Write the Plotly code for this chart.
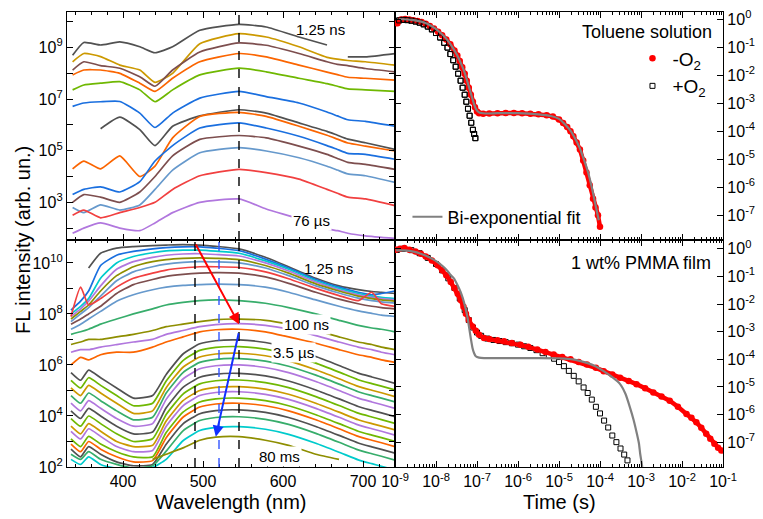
import plotly.graph_objects as go

# ---------------- palette ----------------
GRAY, RED, BLUE, TEAL, PURPLE, GOLD = "#515151", "#F14040", "#1A6FDF", "#37AD6B", "#B177DE", "#CC9900"
CYAN, BROWN, OLIVE, ORANGE, STEEL, LIME = "#00CBCC", "#7D4E4E", "#8E8E00", "#FB6501", "#6699CC", "#6FB802"

# ---------------- toluene solution spectra (log10 intensity) ----------------
tol_wl = [337, 351, 372, 396, 421, 440, 462, 496, 545, 579, 620, 655, 668, 681, 703, 740]
tol_spectra = [
    [8.7, 9.2, 9.1, 9.22, 9.03, 8.8, 9.03, 9.67, 9.9, 9.8, 9.41, 9.1, None, 8.64, 8.64, 8.77],
    [8.45, 8.77, 8.65, 8.32, 8.13, 7.65, 8.0, 9.15, 9.54, 9.41, 9.03, 8.62, 8.55, 8.5, 8.45, 8.32],
    [8.13, 8.45, 8.3, 8.2, 7.87, 7.5, 8.13, 8.83, 9.18, 9.09, 8.77, 8.45, 8.35, 8.3, 8.19, 8.06],
    [7.94, 8.13, 8.13, 8.0, 7.62, 7.3, 7.81, 8.45, 8.77, 8.64, 8.32, 8.05, 7.95, 7.85, 7.81, 7.74],
    [7.36, 7.55, 7.62, 7.68, 7.36, 6.9, 7.36, 7.94, 8.2, 8.06, 7.81, 7.6, 7.5, 7.4, 7.36, 7.3],
    [6.72, 6.85, 6.9, 6.91, 6.46, 5.9, 6.46, 7.04, 7.3, 7.1, 6.85, 6.5, 6.35, 6.2, 6.14, 5.95],
    [None, None, 5.85, 6.3, 5.82, 5.2, 5.95, 6.35, 6.59, 6.46, 6.08, 5.75, 5.6, 5.45, 5.31, 5.05],
    [4.3, 4.6, 4.3, 4.8, 4.0, 4.4, 5.5, 6.33, 6.49, 6.33, 5.95, 5.6, 5.45, 5.3, 5.18, 4.99],
    [3.3, 3.5, 3.6, 3.4, 3.8, 4.6, 5.2, 5.88, 6.08, 5.88, 5.56, 5.2, 5.05, 4.9, 4.86, 4.67],
    [3.0, 3.3, 3.2, 3.0, 3.4, 4.0, 4.8, 5.44, 5.59, 5.5, 5.18, 4.86, 4.7, 4.55, 4.47, 4.28],
    [2.8, 2.6, 2.9, 2.7, 2.9, 3.5, 4.25, 4.92, 5.12, 4.99, 4.73, 4.4, 4.25, 4.1, 4.03, 3.77],
    [2.5, 2.7, 2.4, 2.6, 2.8, 3.0, 3.5, 4.03, 4.28, 4.15, 3.9, 3.5, 3.35, 3.2, 3.13, 2.87],
    [1.8, 2.0, 2.2, 2.0, 1.9, 2.2, 2.6, 3.0, 3.13, 2.74, 2.36, 1.97, 1.9, 1.8, 1.7, 1.6],
]
tol_colors = [GRAY, GOLD, BROWN, ORANGE, LIME, BLUE, GRAY, ORANGE, BLUE, BROWN, STEEL, RED, PURPLE]

# ---------------- PMMA film spectra (log10 intensity) ----------------
film_wl = [335, 347, 357, 372, 392, 413, 437, 454, 475, 496, 516, 545, 578, 607, 641, 670, 694, 711, 723, 740]
film_spectra = [
    [None, None, 9.8, 10.38, 10.58, 10.64, 10.68, 10.7, 10.72, 10.7, 10.65, 10.55, 10.22, 9.85, 9.4, 9.1, 8.95, 8.88, 8.85, 8.8],
    [8.15, 8.5, 8.9, 9.9, 10.3, 10.45, 10.55, 10.6, 10.63, 10.63, 10.58, 10.48, 10.15, 9.8, 9.35, 9.05, 8.85, 8.75, 8.8, 8.9],
    [8.0, 8.3, 8.6, 9.4, 10.0, 10.25, 10.4, 10.47, 10.5, 10.5, 10.46, 10.38, 10.08, 9.75, 9.3, 9.0, 8.8, 8.7, 8.65, 8.6],
    [7.9, 8.2, 8.5, 9.1, 9.75, 10.05, 10.22, 10.3, 10.35, 10.36, 10.33, 10.27, 10.0, 9.68, 9.25, 8.95, 8.75, 8.65, 8.6, 8.55],
    [7.8, 8.1, 8.35, 8.9, 9.5, 9.85, 10.05, 10.13, 10.18, 10.2, 10.18, 10.13, 9.9, 9.6, 9.18, 8.9, 8.7, 8.6, 8.55, 8.5],
    [7.7, 8.0, 8.25, 8.7, 9.3, 9.65, 9.85, 9.95, 10.02, 10.05, 10.04, 10.0, 9.8, 9.5, 9.1, 8.82, 8.62, 8.52, 8.47, 8.42],
    [7.9, 9.05, 8.35, 8.6, 9.05, 9.4, 9.6, 9.72, 9.8, 9.85, 9.85, 9.82, 9.65, 9.38, 9.0, 8.72, 8.52, 8.85, 8.4, 8.3],
    [7.6, 7.8, 8.0, 8.3, 8.8, 9.15, 9.35, 9.47, 9.55, 9.6, 9.62, 9.6, 9.45, 9.2, 8.85, 8.58, 8.4, 8.3, 8.25, 8.2],
    [7.4, 7.6, 7.8, 8.1, 8.5, 8.75, 8.95, 9.05, 9.12, 9.15, 9.17, 9.15, 9.05, 8.85, 8.55, 8.3, 8.12, 8.02, 7.95, 7.9],
    [7.2, 7.3, 7.4, 7.6, 7.8, 8.0, 8.2, 8.35, 8.45, 8.52, 8.55, 8.52, 8.42, 8.25, 8.0, 7.75, 7.55, 7.45, 7.4, 7.3],
    [6.8, 6.9, 7.0, 7.0, 7.1, 7.2, 7.35, 7.5, 7.6, 7.7, 7.78, 7.8, 7.75, 7.6, 7.35, 7.1, 6.9, 6.8, 6.7, 6.6],
    [6.5, 6.6, 6.6, 6.7, 6.8, 6.9, 7.0, 7.2, 7.35, 7.5, 7.58, 7.62, 7.55, 7.4, 7.15, 6.9, 6.7, 6.6, 6.5, 6.4],
    [6.0, 6.3, 6.2, 6.4, 6.5, 6.5, 6.7, 6.9, 7.1, 7.3, 7.38, 7.4, 7.3, 7.1, 6.85, 6.6, 6.4, 6.3, 6.2, 6.1],
    [5.7, 5.4, 5.8, 5.5, 5.1, 4.7, 4.8, 5.63, 6.43, 6.83, 6.95, 6.98, 6.88, 6.68, 6.33, 5.98, 5.68, 5.53, 5.43, 5.28],
    [5.4, 5.1, 5.5, 5.2, 4.8, 4.4, 4.5, 5.37, 6.17, 6.57, 6.69, 6.72, 6.62, 6.42, 6.07, 5.72, 5.42, 5.27, 5.17, 5.02],
    [5.1, 4.8, 5.2, 4.9, 4.5, 4.1, 4.2, 5.11, 5.91, 6.31, 6.43, 6.46, 6.36, 6.16, 5.81, 5.46, 5.16, 5.01, 4.91, 4.76],
    [4.8, 4.5, 4.9, 4.6, 4.2, 3.85, 3.95, 4.9, 5.7, 6.1, 6.22, 6.25, 6.15, 5.95, 5.6, 5.25, 4.95, 4.8, 4.7, 4.55],
    [4.5, 4.2, 4.6, 4.3, 3.9, 3.6, 3.7, 4.65, 5.45, 5.85, 5.97, 6.0, 5.9, 5.7, 5.35, 5.0, 4.7, 4.55, 4.45, 4.3],
    [4.2, 3.9, 4.3, 4.0, 3.6, 3.3, 3.37, 4.32, 5.12, 5.52, 5.64, 5.67, 5.57, 5.37, 5.02, 4.67, 4.37, 4.22, 4.12, 3.97],
    [3.9, 3.6, 4.0, 3.7, 3.3, 3.0, 3.11, 4.06, 4.86, 5.26, 5.38, 5.41, 5.31, 5.11, 4.76, 4.41, 4.11, 3.96, 3.86, 3.71],
    [3.6, 3.3, 3.7, 3.4, 3.0, 2.8, 2.85, 3.8, 4.6, 5.0, 5.12, 5.15, 5.05, 4.85, 4.5, 4.15, 3.85, 3.7, 3.6, 3.45],
    [3.4, 3.1, 3.5, 3.2, 2.8, 2.6, 2.65, 3.6, 4.4, 4.8, 4.92, 4.95, 4.85, 4.65, 4.3, 3.95, 3.65, 3.5, 3.4, 3.25],
    [3.1, 2.8, 3.2, 2.9, 2.6, 2.4, 2.4, 3.35, 4.15, 4.55, 4.67, 4.7, 4.6, 4.4, 4.05, 3.7, 3.4, 3.25, 3.15, 3.0],
    [2.9, 2.6, 3.0, 2.7, 2.4, 2.2, 2.25, 3.15, 3.95, 4.35, 4.47, 4.5, 4.4, 4.2, 3.85, 3.5, 3.2, 3.05, 2.95, 2.8],
    [2.7, 2.4, 2.8, 2.5, 2.2, 2.05, 2.1, 2.89, 3.69, 4.09, 4.21, 4.24, 4.14, 3.94, 3.59, 3.24, 2.94, 2.79, 2.69, 2.54],
    [2.5, 2.3, 2.6, 2.3, 2.1, 1.95, 2.05, 2.62, 3.42, 3.82, 3.94, 3.97, 3.87, 3.67, 3.32, 2.97, 2.67, 2.52, 2.42, 2.27],
    [2.3, 2.1, 2.4, 2.1, 1.95, 1.9, 1.98, 2.3, 3.03, 3.43, 3.55, 3.58, 3.48, 3.28, 2.93, 2.58, 2.28, 2.13, 2.03, 1.88],
    [None, None, None, None, None, None, 2.3, 2.5, 2.75, 3.05, 3.17, 3.19, 3.05, 2.85, 2.5, 2.3, None, None, None, None],
]
film_colors = [GRAY, BLUE, CYAN, PURPLE, OLIVE, STEEL, RED, BROWN, STEEL, TEAL, OLIVE, PURPLE, ORANGE,
               GRAY, LIME, GOLD, TEAL, PURPLE, GRAY, LIME, GOLD, PURPLE, LIME, ORANGE, GRAY, TEAL, CYAN, OLIVE]

# ---------------- decays: toluene solution (log10 t, log10 I) ----------------
tol_t_noO2 = [-8.94, -8.85, -8.75, -8.65, -8.55, -8.45, -8.35, -8.25, -8.15, -8.05, -7.95, -7.85, -7.75, -7.65,
              -7.55, -7.48, -7.42, -7.36, -7.30, -7.25, -7.20, -7.15, -7.10, -7.05, -7.00, -6.95, -6.85, -6.7,
              -6.5, -6.3, -6.1, -5.9, -5.7, -5.5, -5.3, -5.15, -5.0, -4.9, -4.8, -4.72, -4.65, -4.57, -4.49,
              -4.41, -4.33, -4.25, -4.17, -4.11, -4.05, -4.00]
tol_I_noO2 = [-0.15, -0.02, 0.0, -0.02, -0.04, -0.07, -0.11, -0.17, -0.25, -0.34, -0.45, -0.58, -0.73, -0.9,
              -1.12, -1.3, -1.5, -1.72, -1.95, -2.2, -2.45, -2.7, -2.95, -3.15, -3.3, -3.36, -3.38, -3.37,
              -3.36, -3.35, -3.35, -3.36, -3.38, -3.4, -3.43, -3.48, -3.58, -3.71, -3.85, -4.0, -4.18, -4.4, -4.65,
              -5.05, -5.47, -5.93, -6.41, -6.72, -7.0, -7.41]
tol_t_O2 = [-8.9, -8.8, -8.7, -8.6, -8.5, -8.4, -8.3, -8.2, -8.1, -8.0, -7.9, -7.8, -7.72, -7.65, -7.58, -7.52,
            -7.46, -7.40, -7.35, -7.30, -7.26, -7.22, -7.18, -7.14, -7.10, -7.07, -7.04]
tol_I_O2 = [-0.05, -0.03, -0.04, -0.06, -0.09, -0.13, -0.19, -0.27, -0.37, -0.5, -0.66, -0.85, -1.02, -1.25,
            -1.47, -1.7, -1.95, -2.2, -2.45, -2.7, -2.95, -3.2, -3.45, -3.7, -3.95, -4.1, -4.25]
tol_t_fit = [-8.9, -8.6, -8.3, -8.1, -7.9, -7.75, -7.6, -7.48, -7.38, -7.3, -7.22, -7.15, -7.08, -7.02, -6.95,
             -6.8, -6.5, -6.0, -5.5, -5.2, -5.0, -4.85, -4.72, -4.6, -4.5, -4.4, -4.3, -4.2, -4.12, -4.03]
tol_I_fit = [0.0, -0.03, -0.12, -0.26, -0.48, -0.7, -1.0, -1.3, -1.62, -1.92, -2.3, -2.65, -3.0, -3.22, -3.33,
             -3.37, -3.36, -3.36, -3.4, -3.46, -3.56, -3.76, -3.98, -4.28, -4.58, -4.98, -5.42, -6.0, -6.55, -7.18]

# ---------------- decays: PMMA film (log10 t, log10 I) ----------------
film_t_noO2 = [-8.98, -8.88, -8.77, -8.65, -8.5, -8.37, -8.25, -8.1, -7.96, -7.85, -7.75, -7.64, -7.55, -7.47,
               -7.4, -7.33, -7.27, -7.2, -7.11, -7.03, -6.95, -6.83, -6.7, -6.5, -6.34, -6.15, -5.94, -5.75,
               -5.53, -5.33, -5.13, -4.92, -4.72, -4.52, -4.32, -4.1, -3.91, -3.7, -3.51, -3.3, -3.11, -2.9,
               -2.7, -2.5, -2.3, -2.1, -1.89, -1.77, -1.65, -1.53, -1.41, -1.31, -1.21, -1.12, -1.04]
film_I_noO2 = [-0.03, 0.0, 0.03, -0.03, -0.1, -0.18, -0.28, -0.42, -0.6, -0.78, -0.96, -1.2, -1.42, -1.63,
               -1.85, -2.1, -2.35, -2.58, -2.81, -2.97, -3.11, -3.23, -3.27, -3.31, -3.35, -3.41, -3.47, -3.55,
               -3.65, -3.74, -3.83, -3.92, -4.0, -4.1, -4.19, -4.31, -4.43, -4.55, -4.67, -4.79, -4.9, -5.05,
               -5.2, -5.35, -5.5, -5.72, -5.98, -6.12, -6.28, -6.48, -6.7, -6.88, -7.06, -7.2, -7.3]
film_t_O2 = [-8.95, -8.8, -8.6, -8.4, -8.2, -8.0, -7.85, -7.7, -7.55, -7.42, -7.3, -7.2, -7.1, -7.0, -6.9,
             -6.75, -6.6, -6.45, -6.3, -6.15, -6.0, -5.85, -5.7, -5.55, -5.4, -5.25, -5.12, -5.0, -4.88, -4.76,
             -4.64, -4.52, -4.4, -4.3, -4.2, -4.1, -4.0, -3.9, -3.8, -3.7, -3.6, -3.5, -3.41, -3.33]
film_I_O2 = [-0.04, 0.0, -0.05, -0.16, -0.33, -0.55, -0.78, -1.07, -1.42, -1.8, -2.22, -2.58, -2.85, -3.03,
             -3.15, -3.25, -3.3, -3.34, -3.38, -3.42, -3.47, -3.53, -3.59, -3.67, -3.78, -3.88, -3.98, -4.1,
             -4.25, -4.42, -4.6, -4.8, -5.02, -5.22, -5.46, -5.72, -5.96, -6.22, -6.47, -6.76, -7.0, -7.23,
             -7.45, -7.66]
film_t_fit = [-8.98, -8.77, -8.55, -8.37, -8.15, -7.96, -7.82, -7.72, -7.64, -7.56, -7.48, -7.4, -7.34, -7.28,
              -7.23, -7.19, -7.15, -7.11, -7.07, -7.03, -6.95, -6.83, -6.5, -6.0, -5.5, -5.0, -4.6, -4.32, -4.1,
              -3.91, -3.7, -3.51, -3.38, -3.27, -3.18, -3.1, -3.05, -3.02, -2.99, -2.97]
film_I_fit = [-0.06, -0.06, -0.1, -0.18, -0.32, -0.48, -0.65, -0.8, -0.95, -1.08, -1.3, -1.56, -1.82, -2.15,
              -2.5, -2.87, -3.25, -3.59, -3.78, -3.89, -3.94, -3.96, -3.96, -3.96, -3.96, -3.97, -4.02, -4.13,
              -4.26, -4.43, -4.65, -4.9, -5.25, -5.74, -6.2, -6.7, -7.05, -7.42, -7.7, -7.9]


def lin(vals):
    return [None if v is None else 10 ** v for v in vals]


FONT = "Liberation Sans, Arial, sans-serif"
fig = go.Figure()

# spectra: toluene (top-left, axes x2/y2) and PMMA film (bottom-left, axes x/y)
for row, col in zip(tol_spectra, tol_colors):
    fig.add_trace(go.Scatter(x=tol_wl, y=lin(row), mode="lines", xaxis="x2", yaxis="y2",
                             line=dict(color=col, width=1.7, shape="spline", smoothing=0.5),
                             showlegend=False, hoverinfo="skip"))
for row, col in zip(film_spectra, film_colors):
    fig.add_trace(go.Scatter(x=film_wl, y=lin(row), mode="lines", xaxis="x", yaxis="y",
                             line=dict(color=col, width=1.7, shape="spline", smoothing=0.5),
                             showlegend=False, hoverinfo="skip"))


# decays: toluene (top-right, x4/y4) and film (bottom-right, x3/y3)
def add_decay(tr, ir, to, io, tf, if_, xa, ya, legend):
    fig.add_trace(go.Scatter(x=lin(to), y=lin(io), mode="markers", xaxis=xa, yaxis=ya,
                             marker=dict(symbol="square-open", size=5, color="black", line=dict(width=1)),
                             showlegend=False, hoverinfo="skip"))
    fig.add_trace(go.Scatter(x=lin(tr), y=lin(ir), mode="lines", xaxis=xa, yaxis=ya,
                             line=dict(color="red", width=4.5), showlegend=False, hoverinfo="skip"))
    fig.add_trace(go.Scatter(x=lin(tr), y=lin(ir), mode="markers", xaxis=xa, yaxis=ya,
                             marker=dict(symbol="circle", size=6.5, color="red"),
                             name="-O<sub>2</sub>", showlegend=legend, legendrank=1))
    fig.add_trace(go.Scatter(x=lin(to), y=lin(io), mode="markers", xaxis=xa, yaxis=ya,
                             marker=dict(symbol="square-open", size=5, color="black", line=dict(width=1)),
                             name="+O<sub>2</sub>", showlegend=legend, legendrank=2,
                             opacity=1 if legend else 0, hoverinfo="skip"))
    fig.add_trace(go.Scatter(x=lin(tf), y=lin(if_), mode="lines", xaxis=xa, yaxis=ya,
                             line=dict(color="#808080", width=2.2, shape="spline", smoothing=0.5),
                             name="Bi-exponential fit", showlegend=legend, legend="legend2"))


add_decay(tol_t_noO2, tol_I_noO2, tol_t_O2, tol_I_O2, tol_t_fit, tol_I_fit, "x4", "y4", True)
add_decay(film_t_noO2, film_I_noO2, film_t_O2, film_I_O2, film_t_fit, film_I_fit, "x3", "y3", False)


def sup(e):
    return "10<sup>%d</sup>" % e


tick_font = dict(family=FONT, size=16, color="black")
axis_common = dict(showline=True, linecolor="black", linewidth=1.3, mirror="ticks", ticks="inside",
                   tickcolor="black", ticklen=6, tickwidth=1.2, showgrid=False, zeroline=False,
                   tickfont=tick_font)

log_minor_time = [k * 10.0 ** e for e in range(-9, -1) for k in range(2, 10)]
wl_minor = dict(ticks="inside", ticklen=3, tickcolor="black", dtick=20, tick0=0)

fig.update_layout(
    width=763, height=519,
    margin=dict(l=67, r=36, t=8, b=52),
    paper_bgcolor="white", plot_bgcolor="white",
    font=dict(family=FONT, color="black"),
    xaxis=dict(domain=[0, 0.5], range=[330, 740], anchor="y", tickvals=[400, 500, 600, 700],
               minor=wl_minor, **axis_common),
    yaxis=dict(domain=[0, 0.499], type="log", range=[2, 10.9], anchor="x",
               tickvals=[10.0 ** e for e in range(2, 11)],
               ticktext=[sup(e) if e % 2 == 0 else "" for e in range(2, 11)], **axis_common),
    xaxis2=dict(domain=[0, 0.5], range=[330, 740], anchor="y2", matches="x", showticklabels=False,
                tickvals=[400, 500, 600, 700], minor=wl_minor, **axis_common),
    yaxis2=dict(domain=[0.499, 1], type="log", range=[1.54, 10.38], anchor="x2",
                tickvals=[10.0 ** e for e in range(2, 11)],
                ticktext=[sup(e) if e % 2 == 1 else "" for e in range(2, 11)], **axis_common),
    xaxis3=dict(domain=[0.5, 1], type="log", range=[-9, -1], anchor="y3",
                tickvals=[10.0 ** e for e in range(-9, 0)], ticktext=[sup(e) for e in range(-9, 0)],
                minor=dict(ticks="inside", ticklen=3, tickcolor="black", tickvals=log_minor_time),
                **axis_common),
    yaxis3=dict(domain=[0, 0.499], type="log", range=[-7.9, 0.32], anchor="x3", side="right",
                tickvals=[10.0 ** e for e in range(-7, 1)], ticktext=[sup(e) for e in range(-7, 1)],
                **axis_common),
    xaxis4=dict(domain=[0.5, 1], type="log", range=[-9, -1], anchor="y4", showticklabels=False,
                tickvals=[10.0 ** e for e in range(-9, 0)],
                minor=dict(ticks="inside", ticklen=3, tickcolor="black", tickvals=log_minor_time),
                **axis_common),
    yaxis4=dict(domain=[0.499, 1], type="log", range=[-7.88, 0.25], anchor="x4", side="right",
                tickvals=[10.0 ** e for e in range(-7, 1)], ticktext=[sup(e) for e in range(-7, 1)],
                **axis_common),
    legend=dict(x=0.862, y=0.94, xanchor="left", yanchor="top", bgcolor="rgba(0,0,0,0)",
                font=dict(family=FONT, size=19, color="black"), tracegroupgap=0),
    legend2=dict(x=0.519, y=0.59, xanchor="left", yanchor="top", bgcolor="rgba(0,0,0,0)",
                 font=dict(family=FONT, size=18, color="black")),
)

# guide lines
for xv, col, ax in [(545, "black", "y2"), (490, "black", "y"), (545, "black", "y"), (520, "#3355ff", "y")]:
    fig.add_shape(type="line", x0=xv, x1=xv, y0=0, y1=1, xref="x" if ax == "y" else "x2",
                  yref=ax + " domain", line=dict(color=col, width=1.4, dash="dash"))

ann_font = dict(family=FONT, size=15, color="black")
labels = [
    ("1.25 ns", 647, 9.69, "x2", "y2", None),
    ("76 \u00b5s", 636, 2.31, "x2", "y2", "white"),
    ("1.25 ns", 657, 9.8, "x", "y", None),
    ("100 ns", 629, 7.57, "x", "y", "white"),
    ("3.5 \u00b5s", 613, 6.47, "x", "y", "white"),
    ("80 ms", 595, 2.43, "x", "y", "white"),
]
for txt, xv, yv, xr, yr, bg in labels:
    fig.add_annotation(text=txt, x=xv, y=yv, xref=xr, yref=yr, showarrow=False, font=ann_font,
                       bgcolor=bg if bg else "rgba(0,0,0,0)", borderpad=1)

# spectral evolution arrows
fig.add_annotation(x=545, y=7.6, ax=490, ay=10.78, xref="x", yref="y", axref="x", ayref="y",
                   showarrow=True, arrowhead=2, arrowsize=1.1, arrowwidth=2, arrowcolor="red", text="")
fig.add_annotation(x=516, y=3.19, ax=545, ay=7.3, xref="x", yref="y", axref="x", ayref="y",
                   showarrow=True, arrowhead=2, arrowsize=1.1, arrowwidth=2, arrowcolor="#1030ff", text="")

# panel captions and axis titles
fig.add_annotation(text="Toluene solution", x=0.973, y=0.913, xref="x4 domain", yref="y4 domain",
                   xanchor="right", yanchor="middle", showarrow=False,
                   font=dict(family=FONT, size=18, color="black"))
fig.add_annotation(text="1 wt% PMMA film", x=0.97, y=0.9, xref="x3 domain", yref="y3 domain",
                   xanchor="right", yanchor="middle", showarrow=False,
                   font=dict(family=FONT, size=18, color="black"))
fig.add_annotation(text="Wavelength (nm)", x=0.25, y=-0.078, xref="paper", yref="paper",
                   xanchor="center", yanchor="middle", showarrow=False,
                   font=dict(family=FONT, size=20, color="black"))
fig.add_annotation(text="Time (s)", x=0.75, y=-0.078, xref="paper", yref="paper",
                   xanchor="center", yanchor="middle", showarrow=False,
                   font=dict(family=FONT, size=20, color="black"))
fig.add_annotation(text="FL intensity (arb. un.)", x=-0.067, y=0.499, xref="paper", yref="paper",
                   xanchor="center", yanchor="middle", textangle=-90, showarrow=False,
                   font=dict(family=FONT, size=20, color="black"))

fig.write_html("out.html")
